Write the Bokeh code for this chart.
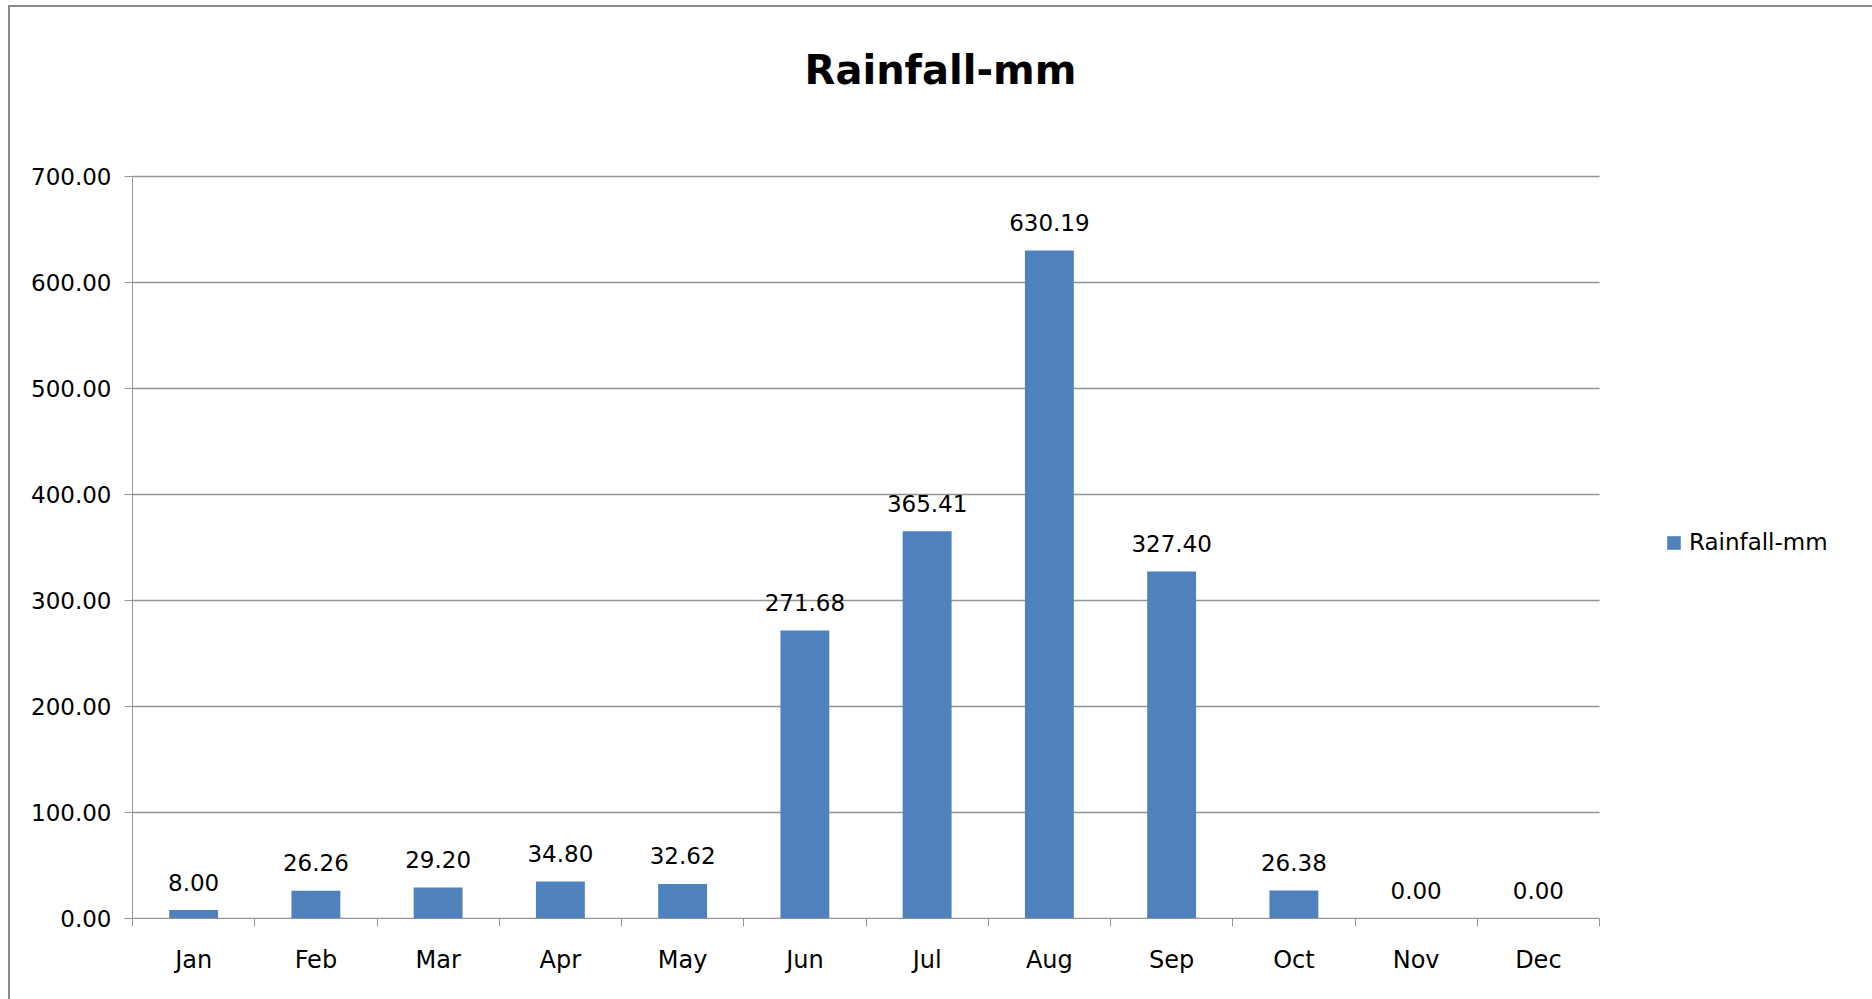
import numpy as np
from bokeh.plotting import figure
from bokeh.models import (ColumnDataSource, FixedTicker, NumeralTickFormatter, Range1d,
                          Legend, LegendItem, Label, InlineStyleSheet)
from bokeh.core.properties import value
from bokeh.embed import file_html
from bokeh.resources import INLINE

months = ["Jan", "Feb", "Mar", "Apr", "May", "Jun", "Jul", "Aug", "Sep", "Oct", "Nov", "Dec"]
rainfall = [8.00, 26.26, 29.20, 34.80, 32.62, 271.68, 365.41, 630.19, 327.40, 26.38, 0.00, 0.00]
y_ticks = [0, 100, 200, 300, 400, 500, 600, 700]
y_max = 700
series_name = "Rainfall-mm"
title_text = "Rainfall-mm"

FONT = "DejaVu Sans"
GRID = "#959595"
BORDER = "#8a8a8a"
# page layout (pixels)
W, H = 1872, 999
BX, BY = 8, 5                  # chart border (left / top) position
AX_L, AX_R, AX_T, AX_B = 132, 1599, 176, 918   # plot-area edges on the page
TITLE_X, TITLE_Y = 940, 69
LEG_X, LEG_Y = 1665, 363       # legend: left edge on page, bottom above x axis

n = len(months)
xppu = (AX_R - AX_L) / n
yppu = (AX_B - AX_T) / y_max
x_end = (W - AX_L) / xppu
y_end = y_max + AX_T / yppu

xpos = [i + 0.5 for i in range(n)]
src = ColumnDataSource(dict(x=xpos, y=rainfall, lab=["%.2f" % v for v in rainfall]))
gsrc = ColumnDataSource(dict(x0=[0] * len(y_ticks), x1=[n] * len(y_ticks), y=y_ticks))

p = figure(width=W, height=H, output_backend="svg", toolbar_location=None,
           x_range=Range1d(0, x_end), y_range=Range1d(0, y_end),
           min_border_left=AX_L, min_border_right=0, min_border_top=0,
           min_border_bottom=H - AX_B)
border_css = (":host { background: "
              f"linear-gradient({BORDER},{BORDER}) {BX}px {BY}px / 2px calc(100% - {BY}px) no-repeat, "
              f"linear-gradient({BORDER},{BORDER}) {BX}px {BY}px / calc(100% - {BX}px) 2px no-repeat, "
              "#ffffff; }")
p.stylesheets = [InlineStyleSheet(css=border_css)]
p.outline_line_color = None
p.background_fill_alpha = 0
p.border_fill_alpha = 0

# horizontal gridlines over the category span only
p.xgrid.visible = False
p.ygrid.visible = False
p.segment(x0="x0", x1="x1", y0="y", y1="y", source=gsrc, line_color=GRID, line_width=1.3)

bars = p.vbar(x="x", top="y", width=0.4, source=src, fill_color="#4F81BD", line_color=None)
p.text(x="x", y="y", text="lab", source=src, text_align="center", text_baseline="alphabetic",
       y_offset=-28, text_font=value(FONT), text_font_size="23px", text_color="#000000")

# y axis
ya = p.yaxis[0]
ya.bounds = (0, y_max)
ya.ticker = FixedTicker(ticks=y_ticks)
ya.formatter = NumeralTickFormatter(format="0.00")
ya.axis_line_color = GRID
ya.major_tick_line_color = GRID
ya.major_tick_out = 8
ya.major_tick_in = 0
ya.minor_tick_line_color = None
ya.major_label_text_font = FONT
ya.major_label_text_font_size = "23px"
ya.major_label_text_color = "#000000"
ya.major_label_standoff = 13

# x axis: labels at category centres, tick marks between categories
xa = p.xaxis[0]
xa.bounds = (0, n)
xa.ticker = FixedTicker(ticks=xpos, minor_ticks=list(range(n + 1)))
xa.major_label_overrides = {x: m for x, m in zip(xpos, months)}
xa.axis_line_color = GRID
xa.major_tick_line_color = None
xa.major_tick_out = 0
xa.major_tick_in = 0
xa.minor_tick_line_color = GRID
xa.minor_tick_out = 8
xa.minor_tick_in = 0
xa.major_label_text_font = FONT
xa.major_label_text_font_size = "24px"
xa.major_label_text_color = "#000000"
xa.major_label_standoff = 19

# title
p.add_layout(Label(x=(TITLE_X - AX_L) / xppu, y=y_max + (AX_T - TITLE_Y) / yppu,
                   text=title_text, text_align="center", text_baseline="middle",
                   text_font=FONT, text_font_size="40px", text_font_style="bold",
                   text_color="#000000"))

legend = Legend(items=[LegendItem(label=series_name, renderers=[bars])],
                location=(LEG_X - AX_L, LEG_Y), padding=0, margin=0,
                border_line_color=None, background_fill_alpha=0,
                label_text_font=FONT, label_text_font_size="23px", label_text_color="#000000",
                glyph_width=17, glyph_height=17, label_standoff=7)
p.add_layout(legend, "center")

open("out.html", "w").write(file_html(p, INLINE))
